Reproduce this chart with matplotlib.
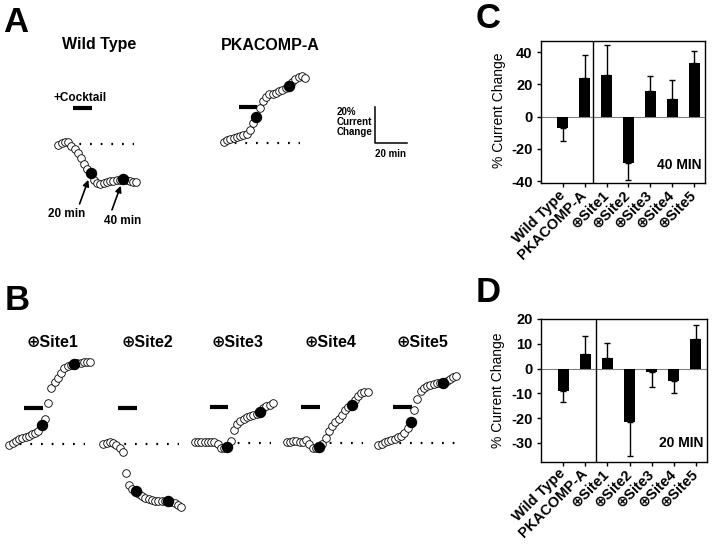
import matplotlib
matplotlib.use("Agg")
import matplotlib.pyplot as plt

plt.rcParams["font.family"] = ["Liberation Sans", "DejaVu Sans"]
plt.rcParams["font.weight"] = "bold"
plt.rcParams["axes.unicode_minus"] = False

# ---- recordings (A, B): % current change sampled every 2 min ----
TIME = [0, 2, 4, 6, 8, 10, 12, 14, 16, 18, 20, 22, 24,
        26, 28, 30, 32, 34, 36, 38, 40, 42, 44, 46, 48, 50]
MARK_T = [20, 40]          # filled points
COCKTAIL = [9, 20.5]       # application bar (min)
COCKTAIL_LEVEL = 20

WILD_TYPE = [-0.5, 0.8, 1.3, 1.0, -1.2, -3.0, -5.0, -7.8, -11.0, -13.8, -16.3, -20.0, -21.5,
             -22.0, -21.8, -21.2, -20.8, -20.4, -20.0, -19.8, -19.6, -20.0, -20.4, -21.0, -21.2]
PKACOMP_A = [0.7, 1.5, 2.2, 3.0, 3.5, 3.9, 4.2, 5.0, 7.0, 11.0, 14.6, 19.5, 23.5,
             25.8, 27.0, 27.5, 28.0, 28.7, 29.5, 30.5, 31.7, 34.0, 35.5, 36.5, 37.0, 36.0]
SITE1 = [-0.8, 0.5, 1.8, 3.0, 3.6, 4.0, 4.6, 5.3, 6.2, 7.5, 10.3, 14.0, 23.0,
         31.2, 34.4, 36.4, 39.2, 42.0, 43.6, 44.0, 44.4, 44.8, 45.2, 45.4, 45.5, 45.7]
SITE2 = [0.0, 0.8, 0.9, 0.6, -0.3, -2.0, -4.5, -16.0, -22.5, -24.8, -26.2, -27.6, -29.0,
         -30.2, -30.8, -31.2, -31.5, -31.5, -31.6, -31.7, -31.8, -32.3, -33.0, -34.0, -34.8]
SITE3 = [0.5, 0.7, 0.8, 0.5, 0.7, 0.8, 0.4, -0.8, -2.8, -2.5, -2.2, 1.2, 7.0,
         10.8, 12.5, 13.5, 14.4, 15.1, 15.7, 16.3, 17.0, 19.4, 20.3, 21.2, 22.5]
SITE4 = [0.5, 0.8, 1.0, 1.1, 0.8, 0.7, 1.4, -0.8, -2.6, -3.0, -2.2, -0.4, 3.0,
         6.6, 9.2, 11.8, 13.6, 15.8, 18.2, 19.8, 21.3, 23.9, 26.2, 27.6, 28.3, 28.3]
SITE5 = [-1.3, -0.3, 0.6, 1.2, 1.7, 2.3, 3.2, 4.0, 5.4, 8.5, 11.7, 18.5, 24.7,
         28.8, 30.6, 31.5, 32.0, 32.7, 33.1, 33.4, 33.6, 34.6, 35.7, 36.4, 37.0]

# ---- bar charts (C, D) ----
CATEGORIES = ["Wild Type", "PKACOMP-A", "\u2295Site1", "\u2295Site2",
              "\u2295Site3", "\u2295Site4", "\u2295Site5"]
CHANGE_40MIN = [-7.0, 24.0, 26.0, -28.5, 16.0, 11.0, 33.5]
ERR_40MIN = [8.0, 14.5, 18.5, 11.0, 9.0, 12.0, 7.0]
CHANGE_20MIN = [-9.1, 6.0, 4.4, -21.7, -1.5, -5.1, 11.9]
ERR_20MIN = [4.5, 7.3, 6.0, 13.6, 5.8, 4.6, 5.7]

W, H = 720, 545
PX_MIN = 1.62   # pixels per minute in the traces
PX_PCT = 1.8    # pixels per % change in the traces


def fx(px):
    return px / W


def fy(py):
    return 1 - py / H


fig = plt.figure(figsize=(W / 100, H / 100), dpi=100)


# one transparent axes per recording, all sharing the same scale
def trace_axes(x0, y0):
    t_lo, t_hi, p_lo, p_hi = -5, 55, -45, 50
    ax = fig.add_axes([fx(x0 + t_lo * PX_MIN), fy(y0 - p_lo * PX_PCT),
                       (t_hi - t_lo) * PX_MIN / W, (p_hi - p_lo) * PX_PCT / H])
    ax.set_xlim(t_lo, t_hi)
    ax.set_ylim(p_lo, p_hi)
    ax.axis("off")
    return ax


def draw_trace(ax, values):
    t = TIME[:len(values)]
    ax.plot([0, 47], [0, 0], color="black", lw=1.6, ls=(0, (0.8, 4.0)), zorder=1)
    ax.plot(COCKTAIL, [COCKTAIL_LEVEL] * 2, color="black", lw=3, solid_capstyle="butt")
    ax.scatter(t, values, s=30, facecolors="white", edgecolors="black",
               linewidths=0.6, zorder=3, clip_on=False)
    idx = [TIME.index(m) for m in MARK_T]
    ax.scatter([TIME[i] for i in idx], [values[i] for i in idx],
               s=52, color="black", zorder=4, clip_on=False)


# Panel A
ax_wt = trace_axes(58.3, 144)
draw_trace(ax_wt, WILD_TYPE)
ax_wt.text(13.4, 25.5, "+Cocktail", ha="center", va="center", fontsize=8.5)
i20, i40 = TIME.index(20), TIME.index(40)
for i, lab, off in [(i20, "20 min", (-17, -29)), (i40, "40 min", (-0.6, -30))]:
    ax_wt.annotate("", xy=(TIME[i], WILD_TYPE[i]), xytext=(-8, -22),
                   textcoords="offset points",
                   arrowprops=dict(arrowstyle="-|>", color="black", lw=1.2,
                                   mutation_scale=9, shrinkA=0, shrinkB=5))
    ax_wt.annotate(lab, xy=(TIME[i], WILD_TYPE[i]), xytext=off,
                   textcoords="offset points", ha="center", va="center", fontsize=8.5)

ax_pka = trace_axes(224, 143)
draw_trace(ax_pka, PKACOMP_A)

fig.text(fx(99.5), fy(49.5), "Wild Type", ha="center", va="baseline", fontsize=11.5)
fig.text(fx(270), fy(50), "PKACOMP-A", ha="center", va="baseline", fontsize=11.5)

# scale bar
ax_sc = trace_axes(375, 142.7)
ax_sc.plot([0, 0, 20], [20, 0, 0], color="black", lw=1.1)
fig.text(fx(337), fy(122.3), "20%\nCurrent\nChange", ha="left", va="center",
         fontsize=7, linespacing=1.0)
fig.text(fx(391), fy(154), "20 min", ha="center", va="center", fontsize=7)

# Panel B
site_x0 = [9.3, 103.3, 195, 286.7, 378.5]
site_y0 = [444, 444, 443, 443, 443]
site_title_x = [53, 147.5, 237.5, 330, 422]
for vals, x0, y0, tx, name in zip([SITE1, SITE2, SITE3, SITE4, SITE5],
                                  site_x0, site_y0, site_title_x, CATEGORIES[2:]):
    draw_trace(trace_axes(x0, y0), vals)
    fig.text(fx(tx), fy(347), name, ha="center", va="baseline", fontsize=11.5)


# Panels C and D
def bar_panel(rect, values, errs, ylim, yticks, divider, tag, label_y):
    ax = fig.add_axes(rect)
    x = list(range(len(values)))
    lower = [e if v < 0 else 0 for v, e in zip(values, errs)]
    upper = [e if v >= 0 else 0 for v, e in zip(values, errs)]
    ax.axhline(0, color="gray", lw=0.8, zorder=1)
    ax.bar(x, values, width=0.5, color="black", zorder=2)
    ax.errorbar(x, values, yerr=[lower, upper], fmt="none", ecolor="black",
                elinewidth=1, capsize=2.5, capthick=1, zorder=3)
    ax.axvline(divider, color="black", lw=1)
    ax.set_xlim(-1.0, 6.5)
    ax.set_ylim(*ylim)
    ax.set_yticks(yticks)
    ax.set_xticks(x)
    ax.set_xticklabels(CATEGORIES, rotation=45, ha="right", va="center",
                       rotation_mode="anchor", fontsize=10.5)
    ax.tick_params(axis="both", direction="out", length=3, width=1, labelsize=10.5)
    ax.tick_params(axis="y", pad=3)
    ax.tick_params(axis="x", pad=4)
    for s in ax.spines.values():
        s.set_linewidth(1.0)
    ax.set_ylabel("% Current Change", fontsize=10)
    ax.yaxis.set_label_coords(-0.215, label_y)
    ax.text(0.98, 0.13, tag, transform=ax.transAxes, ha="right", va="center", fontsize=10)
    return ax


bar_panel([fx(541), fy(183), 164 / W, 142 / H], CHANGE_40MIN, ERR_40MIN,
          (-41.2, 47), [-40, -20, 0, 20, 40], 1.4, "40 MIN", 0.51)
bar_panel([fx(541), fy(461.7), 166 / W, 142.7 / H], CHANGE_20MIN, ERR_20MIN,
          (-37.6, 20), [-30, -20, -10, 0, 10, 20], 1.5, "20 MIN", 0.5)

# panel letters
for lx, ly, letter in [(3, 32, "A"), (5, 310, "B"), (476, 28, "C"), (476, 302, "D")]:
    fig.text(fx(lx), fy(ly), letter, ha="left", va="baseline", fontsize=25)

fig.savefig("out.png", dpi=100)
